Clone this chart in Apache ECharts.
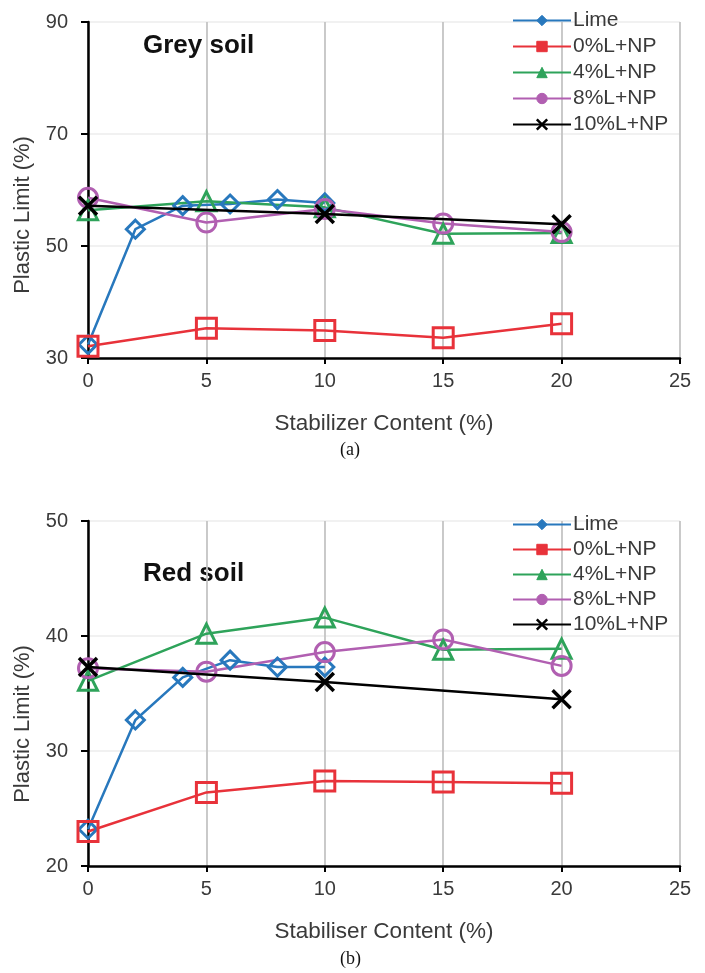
<!DOCTYPE html>
<html><head><meta charset="utf-8">
<script src="https://cdn.jsdelivr.net/npm/echarts@6/dist/echarts.min.js"></script>
<style>html,body{margin:0;padding:0;background:#fff}#c{width:705px;height:973px}</style>
</head><body><div id="c"></div>
<script>
// ---- data ----
const seriesNames = ['Lime', '0%L+NP', '4%L+NP', '8%L+NP', '10%L+NP'];
const limeX = [0, 2, 4, 6, 8, 10];
const npX = [0, 5, 10, 15, 20];
const crossX = [0, 10, 20];
// (a) Grey soil
const greyLime = [32.4, 53.0, 57.2, 57.5, 58.3, 57.7];
const greyNP0 = [32.1, 35.3, 34.9, 33.6, 36.1];
const greyNP4 = [56.4, 58.0, 56.9, 52.2, 52.3];
const greyNP8 = [58.6, 54.2, 56.6, 54.0, 52.5];
const greyNP10 = [57.2, 55.7, 53.9];
// (b) Red soil
const redLime = [23.2, 32.7, 36.4, 37.9, 37.3, 37.3];
const redNP0 = [23.0, 26.4, 27.4, 27.3, 27.2];
const redNP4 = [36.1, 40.2, 41.6, 38.8, 38.9];
const redNP8 = [37.2, 36.9, 38.6, 39.7, 37.4];
const redNP10 = [37.3, 36.0, 34.5];
const xTicks = [0, 25, 5];
const yTicksA = [30, 90, 20];
const yTicksB = [20, 50, 10];

// ---- styles ----
const colors = ['#2878bd', '#e8323a', '#2ea35a', '#b15fb1', '#000000'];
const symbols = ['diamond', 'rect', 'triangle', 'circle', 'path://M0,0 L10,10 M10,0 L0,10'];
const symSizes = [18, 20, 19, 19, 18];
const font = 'Arimo, "Liberation Sans", Arial, sans-serif';

function pairs(xs, ys) { return xs.map((x, i) => [x, ys[i]]); }

function makeSeries(idx, datasets) {
  const xsList = [limeX, npX, npX, npX, crossX];
  return datasets.map((ys, k) => ({
    name: seriesNames[k],
    type: 'line',
    xAxisIndex: idx, yAxisIndex: idx,
    data: pairs(xsList[k], ys),
    symbol: symbols[k],
    symbolSize: symSizes[k],
    showAllSymbol: true,
    lineStyle: { color: colors[k], width: 2.5 },
    itemStyle: { color: k === 4 ? '#000' : 'rgba(255,255,255,0)', borderColor: colors[k], borderWidth: k === 4 ? 3.5 : 3 },
    z: k === 4 ? 5 : 3,
    animation: false
  }));
}

const axisLabel = { color: '#3a3a3a', fontSize: 20, fontFamily: font };
function xAx(idx, name) {
  return {
    type: 'value', gridIndex: idx, min: xTicks[0], max: xTicks[1], interval: xTicks[2],
    name: name, nameLocation: 'middle', nameGap: 54,
    nameTextStyle: { color: '#3a3a3a', fontSize: 22.5, fontFamily: font },
    axisLine: { show: true, onZero: false, lineStyle: { color: '#000', width: 2.5 } },
    axisTick: { show: true, length: 6, lineStyle: { color: '#000', width: 2 } },
    axisLabel: Object.assign({ margin: 13 }, axisLabel),
    splitLine: { show: true, lineStyle: { color: '#c4c4c4', width: 1.8 } }
  };
}
function yAx(idx, t) {
  return {
    type: 'value', gridIndex: idx, min: t[0], max: t[1], interval: t[2],
    axisLine: { show: true, onZero: false, lineStyle: { color: '#000', width: 2.5 } },
    axisTick: { show: true, length: 7, lineStyle: { color: '#000', width: 2 } },
    axisLabel: Object.assign({ margin: 20 }, axisLabel),
    splitLine: { show: true, lineStyle: { color: '#ececec', width: 1.5 } }
  };
}
function legend(top, gap) {
  return {
    orient: 'vertical', left: 507, top: top,
    data: seriesNames.map((n, k) => ({ name: n, itemStyle: { color: colors[k], borderColor: colors[k], borderWidth: k === 4 ? 2.5 : 1 } })),
    itemWidth: 58, itemHeight: 13, itemGap: gap,
    textStyle: { color: '#3a3a3a', fontSize: 21, fontFamily: font, padding: [0, 0, 0, -3] },
    backgroundColor: 'rgba(255,255,255,0)'
  };
}

const chart = echarts.init(document.getElementById('c'), null, { renderer: 'canvas' });
chart.setOption({
  animation: false,
  backgroundColor: '#fff',
  grid: [
    { left: 88, right: 25, top: 22, height: 336 },
    { left: 88, right: 25, top: 521, height: 345 }
  ],
  xAxis: [xAx(0, 'Stabilizer Content (%)'), xAx(1, 'Stabiliser Content (%)')],
  yAxis: [yAx(0, yTicksA), yAx(1, yTicksB)],
  legend: [legend(5, 5), legend(509, 4)],
  series: makeSeries(0, [greyLime, greyNP0, greyNP4, greyNP8, greyNP10])
    .concat(makeSeries(1, [redLime, redNP0, redNP4, redNP8, redNP10])),
  graphic: [
    { type: 'text', x: 23, y: 215, rotation: Math.PI / 2, style: { text: 'Plastic Limit (%)', font: '22px ' + font, fill: '#3a3a3a', textAlign: 'center', textVerticalAlign: 'middle' } },
    { type: 'text', x: 23, y: 724, rotation: Math.PI / 2, style: { text: 'Plastic Limit (%)', font: '22px ' + font, fill: '#3a3a3a', textAlign: 'center', textVerticalAlign: 'middle' } },
    { type: 'text', left: 143, top: 33, style: { text: 'Grey soil', font: 'bold 26px ' + font, fill: '#111' } },
    { type: 'text', left: 143, top: 561, style: { text: 'Red soil', font: 'bold 26px ' + font, fill: '#111' } },
    { type: 'text', left: 340, top: 441, style: { text: '(a)', font: '18px "Liberation Serif", serif', fill: '#111' } },
    { type: 'text', left: 340, top: 950, style: { text: '(b)', font: '18px "Liberation Serif", serif', fill: '#111' } }
  ]
});
</script></body></html>
